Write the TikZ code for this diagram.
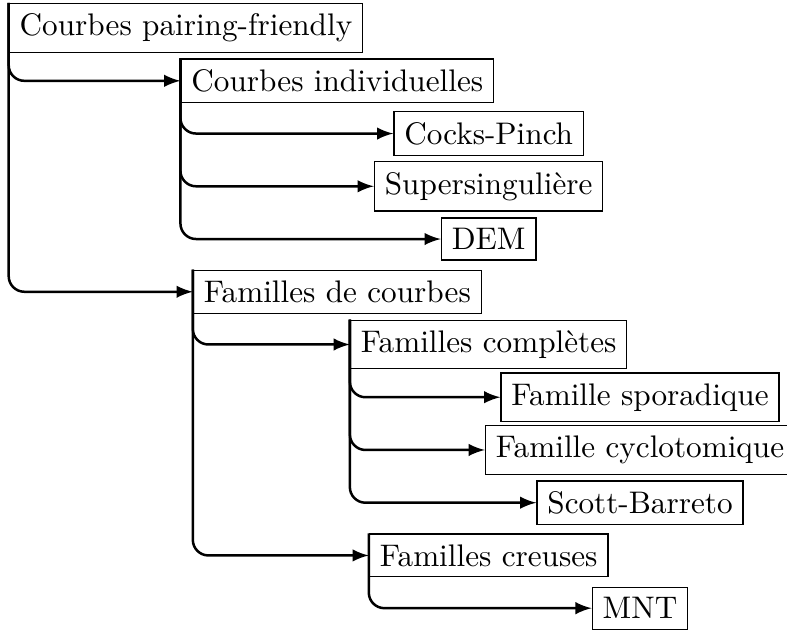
\documentclass[tikz,border=0pt]{standalone}
\usetikzlibrary{positioning}

\tikzset{
  box/.style={draw,inner sep=.3333em},
  link/.style={->,thick,rounded corners=5pt},
}

\begin{document}
\begin{tikzpicture}[>=latex,x=48.5pt,y=-16.9pt]

\useasboundingbox (-59.6pt,9pt) rectangle (192.6pt,-193.5pt);

\node[box] (pf) at (0,0) {Courbes pairing-friendly};

\node[box] (indiv) at (1,1) {Courbes individuelles};
\node[box] (cp) at (2,2) {Cocks-Pinch};
\node[box] (super) at (2,3) {Supersingulière};
\node[box] (dem) at (2,4) {DEM};

\node[box] (fam) at (1,5) {Familles de courbes};
\node[box] (comp) at (2,6) {Familles complètes};
\node[box] (spor) at (3,7) {Famille sporadique};
\node[box] (cyclo) at (3,8) {Famille cyclotomique};
\node[box] (sb) at (3,9) {Scott-Barreto};
\node[box] (creuses) at (2,10) {Familles creuses};
\node[box] (mnt) at (3,11) {MNT};

\draw[link] (pf.north west) |- (indiv.west);
\draw[link] (pf.north west) |- (fam.west);

\draw[link] (indiv.north west) |- (cp.west);
\draw[link] (indiv.north west) |- (super.west);
\draw[link] (indiv.north west) |- (dem.west);

\draw[link] (fam.north west) |- (comp.west);
\draw[link] (fam.north west) |- (creuses.west);

\draw[link] (comp.north west) |- (spor.west);
\draw[link] (comp.north west) |- (cyclo.west);
\draw[link] (comp.north west) |- (sb.west);

\draw[link] (creuses.north west) |- (mnt.west);

\end{tikzpicture}
\end{document}
